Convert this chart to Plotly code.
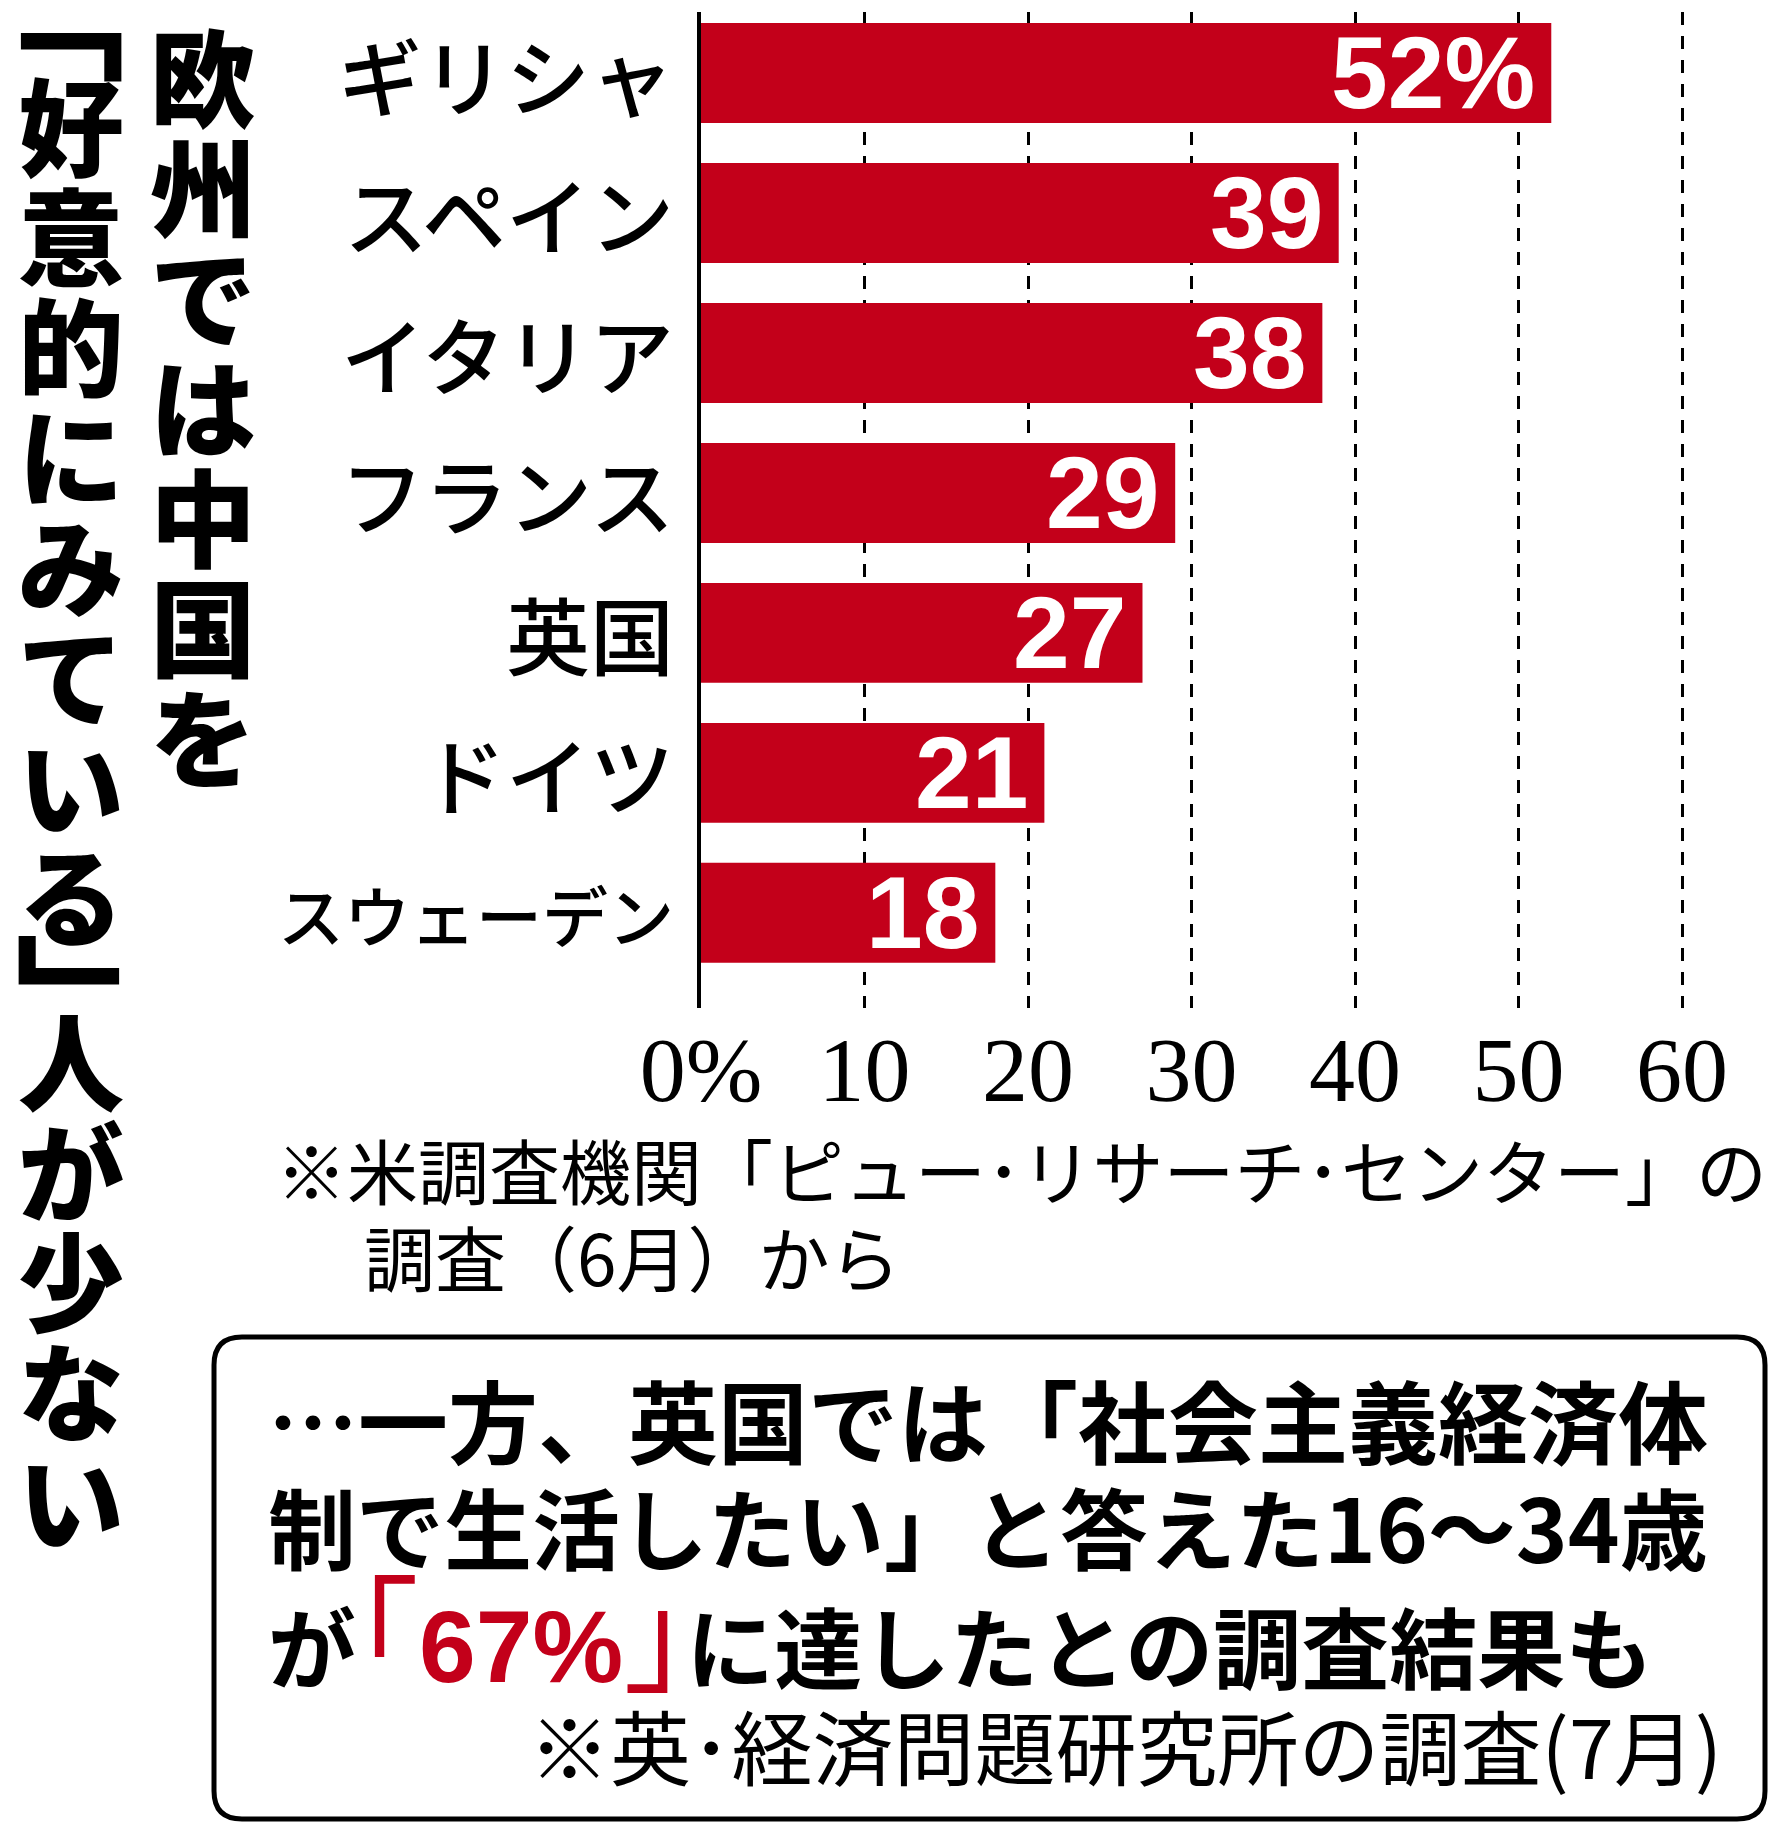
import plotly.graph_objects as go

# ---------------- data ----------------
categories = ["ギリシャ", "スペイン", "イタリア", "フランス", "英国", "ドイツ", "スウェーデン"]
values = [52, 39, 38, 29, 27, 21, 18]
x_tickvals = [0, 10, 20, 30, 40, 50, 60]
x_ticktext = ["0%", "10", "20", "30", "40", "50", "60"]

title_col_right = "欧州では中国を"
title_col_left = "﹁好意的にみている﹂人が少ない"

note_line1 = "※米調査機関「ピュー･リサーチ･センター」の"
note_line2 = "調査（6月）から"
box_line1 = "…一方、英国では「社会主義経済体"
box_line2 = "制で生活したい」と答えた16～34歳"
box_line3_pre = "が"
box_line3_highlight = "67%"
box_line3_post = "に達したとの調査結果も"
box_source = "※英･経済問題研究所の調査(7月)"

# ---------------- styles ----------------
RED = "#c3001a"
GOTHIC = "Noto Sans CJK JP"
SANS = "Liberation Sans"
SERIF = "Liberation Serif"

W, H = 1792, 1828
ML, MR, MT, MB = 701, 105, 12, 820
PW = W - ML - MR
PH = H - MT - MB


def px_x(px):
    return (px - ML) / PW


def px_y(py):
    return (H - MB - py) / PH


fig = go.Figure(
    go.Bar(
        x=values,
        y=categories,
        orientation="h",
        width=0.714,
        marker=dict(color=RED, line=dict(width=0)),
        hoverinfo="skip",
    )
)

annotations = []

# category labels
for cat in categories:
    size = 84 if len(cat) <= 4 else 66
    annotations.append(dict(
        x=0, y=cat, xref="x", yref="y", xanchor="right", yanchor="middle",
        xshift=-25, text=cat, showarrow=False,
        font=dict(family=GOTHIC, size=size, color="black", weight=500),
    ))

# value labels
for i, (cat, v) in enumerate(zip(categories, values)):
    txt = f"{v}%" if i == 0 else f"{v}"
    annotations.append(dict(
        x=v, y=cat, xref="x", yref="y", xanchor="right", yanchor="middle",
        xshift=-14, text=txt, showarrow=False,
        font=dict(family=SANS, size=102, color="white", weight="bold"),
    ))

# vertical titles; vertical-form brackets get their own size / anchor offset
BR_SIZE = 145
# (dx, dy): anchor offset from the cell centre so the glyph lands like the reference
BR_OFFSET = {"﹁": (-19, -34), "﹂": (16, 20)}


def vertical(text, cx, top, pitch, size):
    y = top
    for ch in text:
        if ch in BR_OFFSET:
            h = pitch / 2
            dx, dy = BR_OFFSET[ch]
            annotations.append(dict(
                x=px_x(cx + dx), y=px_y(y + h / 2 + dy), xref="paper", yref="paper",
                xanchor="center", yanchor="middle", text=ch, showarrow=False,
                font=dict(family=GOTHIC, size=BR_SIZE, color="black", weight=700),
            ))
        else:
            h = pitch
            annotations.append(dict(
                x=px_x(cx), y=px_y(y + h / 2), xref="paper", yref="paper",
                xanchor="center", yanchor="middle", text=ch, showarrow=False,
                font=dict(family=GOTHIC, size=size, color="black", weight=900),
            ))
        y += h


vertical(title_col_left, 71, 12, 110, 106)
vertical(title_col_right, 203, 18, 110, 106)

# source note
annotations.append(dict(
    x=px_x(274), y=px_y(1168), xref="paper", yref="paper",
    xanchor="left", yanchor="middle", text=note_line1, showarrow=False,
    font=dict(family=GOTHIC, size=71, color="black", weight=400),
))
annotations.append(dict(
    x=px_x(362), y=px_y(1255), xref="paper", yref="paper",
    xanchor="left", yanchor="middle", text=note_line2, showarrow=False,
    font=dict(family=GOTHIC, size=71, color="black", weight=400),
))

# box text
box_sizes = [90, 88]
for j, line in enumerate([box_line1, box_line2]):
    annotations.append(dict(
        x=px_x(266), y=px_y(1418 + 106 * j), xref="paper", yref="paper",
        xanchor="left", yanchor="middle", text=line, showarrow=False,
        font=dict(family=GOTHIC, size=box_sizes[j], color="black", weight=700),
    ))

line3 = (
    f"{box_line3_pre}"
    f"<span style=\"color:{RED};font-size:126px;font-weight:400\">｢</span>"
    f"<span style=\"color:{RED};font-family:{SANS};font-size:102px;font-weight:bold\">{box_line3_highlight}</span>"
    f"<span style=\"color:{RED};font-size:126px;font-weight:400\">｣</span>"
    f"{box_line3_post}"
)
annotations.append(dict(
    x=px_x(266), y=px_y(1627), xref="paper", yref="paper",
    xanchor="left", yanchor="middle", text=line3, showarrow=False,
    font=dict(family=GOTHIC, size=88, color="black", weight=700),
))

annotations.append(dict(
    x=px_x(1724), y=px_y(1744), xref="paper", yref="paper",
    xanchor="right", yanchor="middle", text=box_source, showarrow=False,
    font=dict(family=GOTHIC, size=81, color="black", weight=400),
))

# rounded box
bx0, by0, bx1, by1, r = 214, 1337, 1765, 1819, 28
pts = [
    ("M", bx0 + r, by0), ("L", bx1 - r, by0), ("Q", bx1, by0, bx1, by0 + r),
    ("L", bx1, by1 - r), ("Q", bx1, by1, bx1 - r, by1),
    ("L", bx0 + r, by1), ("Q", bx0, by1, bx0, by1 - r),
    ("L", bx0, by0 + r), ("Q", bx0, by0, bx0 + r, by0),
]
path = ""
for p in pts:
    cmd = p[0]
    coords = p[1:]
    pairs = [f"{px_x(coords[k]):.5f},{px_y(coords[k + 1]):.5f}" for k in range(0, len(coords), 2)]
    path += cmd + " " + " ".join(pairs) + " "
path += "Z"

fig.update_layout(
    width=W, height=H, autosize=False,
    margin=dict(l=ML, r=MR, t=MT, b=MB, pad=0),
    paper_bgcolor="white", plot_bgcolor="white",
    showlegend=False,
    annotations=annotations,
    shapes=[dict(type="path", path=path, xref="paper", yref="paper",
                 line=dict(color="black", width=5), fillcolor="rgba(0,0,0,0)")],
    xaxis=dict(
        range=[0, 60.3], tickvals=x_tickvals, ticktext=x_ticktext,
        showgrid=True, gridcolor="black", gridwidth=2.5, griddash="13px,11px",
        zeroline=False, showline=False, ticks="",
        tickfont=dict(family=SERIF, size=92, color="black"),
        fixedrange=True,
    ),
    yaxis=dict(
        type="category", range=[6.68, -0.436], showticklabels=False,
        showgrid=False, zeroline=False, showline=True, linecolor="black",
        linewidth=3.5, ticks="", fixedrange=True,
    ),
)

fig.write_html("out.html")
